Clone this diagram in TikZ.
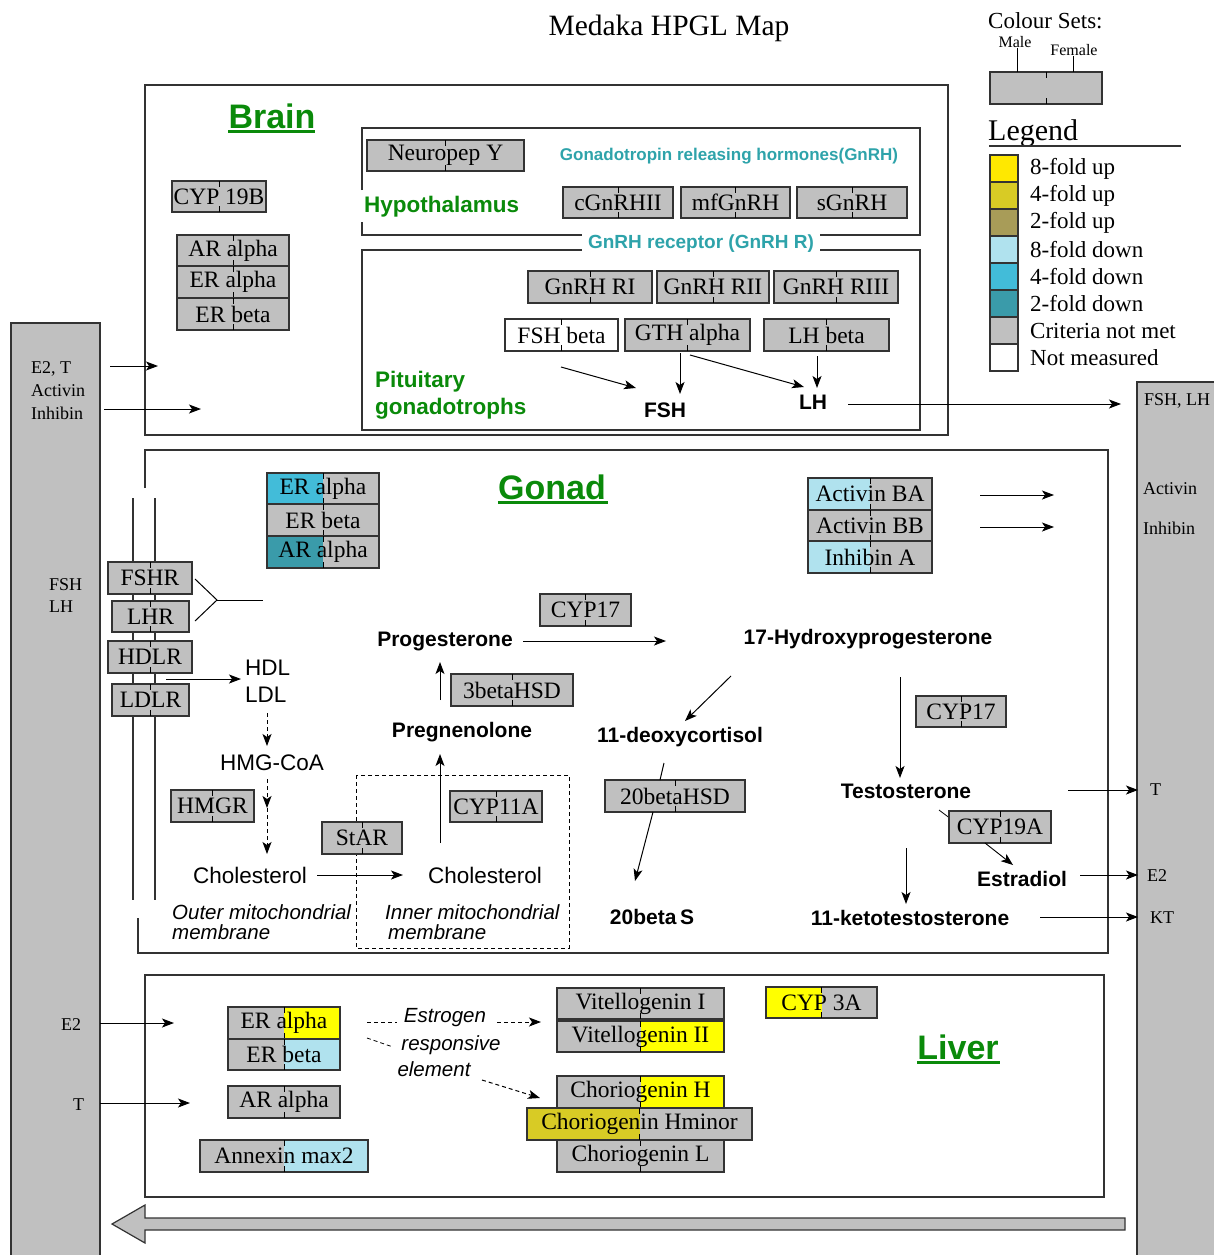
\documentclass[tikz,border=0pt]{standalone}
\usepackage{fontspec}
\setmainfont{Liberation Serif}
\newfontfamily\sansf{Liberation Sans}
\usetikzlibrary{arrows.meta}

\definecolor{gry}{HTML}{C0C0C0}
\definecolor{upA}{HTML}{FFFF00}
\definecolor{upL}{HTML}{FFE800}
\definecolor{upB}{HTML}{D8CB25}
\definecolor{upC}{HTML}{A89C58}
\definecolor{dnA}{HTML}{B0E2EE}
\definecolor{dnB}{HTML}{42BCD9}
\definecolor{dnC}{HTML}{3A9BAA}
\definecolor{grn}{HTML}{0A8A0A}
\definecolor{tealtx}{HTML}{2EA3AA}
\definecolor{edge}{HTML}{333333}

\newcommand\fsz[1]{\fontsize{#1}{#1}\selectfont}

\tikzset{
  gbox/.style={draw=edge, line width=1.3pt, inner sep=0pt, font=\fsz{23.5}},
  gtick/.style={draw=black, line width=0.9pt},
  cont/.style={draw=edge, line width=1.3pt},
  arr/.style={-{Stealth[length=12pt,width=9pt,inset=3pt]}, line width=1pt},
  darr/.style={-{Stealth[length=12pt,width=9pt,inset=3pt]}, line width=1pt, dash pattern=on 4pt off 3pt},
  dln/.style={line width=1pt, dash pattern=on 4pt off 3pt},
  bar/.style={fill=gry, draw=edge, line width=1.3pt},
  lgsq/.style={draw=edge, line width=1.3pt, minimum width=28pt, minimum height=27pt, inner sep=0pt},
  lgtx/.style={anchor=west, font=\fsz{23}, inner sep=0pt},
  bartx/.style={anchor=west, font=\fsz{18}, inner sep=0pt},
  organ/.style={font=\sansf\bfseries\fsz{34}, text=grn, inner sep=0pt},
  ulin/.style={draw=grn, line width=2.5pt},
  region/.style={font=\sansf\bfseries\fsz{22.5}, text=grn, inner sep=0pt, anchor=west},
  chemb/.style={font=\sansf\bfseries\fsz{21}, inner sep=0pt},
  chem/.style={font=\sansf\fsz{22.5}, inner sep=0pt},
  itx/.style={font=\sansf\itshape\fsz{20.5}, inner sep=0pt},
}

% name, x1, y1, x2, y2, left colour, right colour, text
\newcommand\genebox[8]{%
  \fill[#6] (#2,#3) rectangle ({(#2+#4)/2},#5);
  \fill[#7] ({(#2+#4)/2},#3) rectangle (#4,#5);
  \node[gbox, minimum width={(#4-#2)*1pt}, minimum height={(#5-#3)*1pt}] (#1) at ({(#2+#4)/2},{(#3+#5)/2}) {#8};
  \draw[gtick] ({(#2+#4)/2},#3) -- ++(0,6) ({(#2+#4)/2},#5) -- ++(0,-6);
}

\begin{document}
\begin{tikzpicture}[x=1pt,y=-1pt]
\useasboundingbox (0,0) rectangle (1213,1255);

% ---------- title ----------
\node[font=\fsz{29.5}] (title) at (669,28) {Medaka HPGL Map};

% ---------- legend ----------
\node[anchor=west, font=\fsz{23}, inner sep=0pt] (cs) at (988,21) {Colour Sets:};
\node[font=\fsz{16}, inner sep=0pt] (male) at (1015,42) {Male};
\node[font=\fsz{16}, inner sep=0pt] (female) at (1074,50) {Female};
\genebox{csbox}{990}{72}{1102}{104}{gry}{gry}{}
\coordinate (maleL) at (1017,72);
\coordinate (femL) at (1073,72);
\draw[line width=1pt] (male.south -| maleL) -- (maleL);
\draw[line width=1pt] (female.south -| femL) -- (femL);
\node[anchor=west, font=\fsz{30}, inner sep=0pt] (legend) at (988,133) {Legend};
\coordinate (lgU1) at (989,146);
\coordinate (lgU2) at (1181,146);
\draw[line width=1.2pt, draw=edge] (lgU1) -- (lgU2);
\foreach \i/\c/\t in {0/upL/8-fold up,1/upB/4-fold up,2/upC/2-fold up,3/dnA/8-fold down,4/dnB/4-fold down,5/dnC/2-fold down,6/gry/Criteria not met,7/white/Not measured}{
  \node[lgsq, fill=\c] (lg\i) at (1004,{168.5+27*\i}) {};
  \node[lgtx] (lgt\i) at (1030,{168.5+27*\i}) {\t};
}

% ---------- side bars ----------
\draw[bar] (11,323) rectangle (100,1262);
\draw[bar] (1137,382) rectangle (1222,1262);
\node[bartx] (lE2T) at (31,369) {E2, T};
\node[bartx] (lAct) at (31,391) {Activin};
\node[bartx] (lInh) at (31,413) {Inhibin};
\node[bartx] (lFSH) at (49,585) {FSH};
\node[bartx] (lLH) at (49,607) {LH};
\node[bartx] (lE2) at (61,1025) {E2};
\node[bartx] (lT) at (73,1105) {T};
\node[bartx] (rFL) at (1144,401) {FSH, LH};
\node[bartx] (rAct) at (1143,489) {Activin};
\node[bartx] (rInh) at (1143,528) {Inhibin};
\node[bartx] (rT) at (1150,790) {T};
\node[bartx] (rE2) at (1147,876) {E2};
\node[bartx] (rKT) at (1150,918) {KT};

% ---------- brain ----------
\draw[cont] (145,85) rectangle (948,435);
\node[organ] (brain) at (272,116) {Brain};
\draw[ulin] (brain.south west) ++(0,3) -- ++(87,0);
\genebox{cyp19b}{172}{181}{266}{212}{gry}{gry}{CYP 19B}
\genebox{bAR}{177}{235}{289}{266}{gry}{gry}{AR alpha}
\genebox{bERa}{177}{266}{289}{298}{gry}{gry}{ER alpha}
\genebox{bERb}{177}{298}{289}{330}{gry}{gry}{ER beta}

% hypothalamus
\draw[cont] (362,190) -- (362,128) -- (920,128) -- (920,235) -- (362,235) -- (362,222);
\node[region] (hypo) at (364,207) {Hypothalamus};
\genebox{npy}{367}{140}{524}{171}{gry}{gry}{Neuropep Y}
\node[font=\sansf\bfseries\fsz{17}, text=tealtx, inner sep=0pt] (gnrh) at (729,156) {Gonadotropin releasing hormones(GnRH)};
\genebox{cg}{563}{187}{673}{218}{gry}{gry}{cGnRHII}
\genebox{mf}{681}{187}{790}{218}{gry}{gry}{mfGnRH}
\genebox{sg}{797}{187}{907}{218}{gry}{gry}{sGnRH}

% pituitary
\draw[cont] (362,250) rectangle (920,430);
\node[font=\sansf\bfseries\fsz{19}, text=tealtx, fill=white, inner xsep=6pt, inner ysep=2pt] (gnrhr) at (701,244) {GnRH receptor (GnRH R)};
\genebox{r1}{528}{271}{652}{303}{gry}{gry}{GnRH RI}
\genebox{r2}{657}{271}{769}{303}{gry}{gry}{GnRH RII}
\genebox{r3}{774}{271}{898}{303}{gry}{gry}{GnRH RIII}
\genebox{fshb}{505}{319}{618}{351}{white}{white}{FSH beta}
\genebox{gtha}{625}{319}{750}{351}{gry}{gry}{GTH alpha}
\genebox{lhb}{764}{319}{889}{351}{gry}{gry}{LH beta}
\node[region] (pit1) at (375,382) {Pituitary};
\node[region] (pit2) at (375,409) {gonadotrophs};
\node[chemb] (fsh) at (665,410) {FSH};
\node[chemb] (lh) at (813,402) {LH};
\coordinate (p1s) at (561,367); \coordinate (p1e) at (636,388);
\coordinate (p2s) at (680,353); \coordinate (p2e) at (680,394);
\coordinate (p3s) at (690,355); \coordinate (p3e) at (804,387);
\coordinate (p4s) at (817,356); \coordinate (p4e) at (817,388);
\coordinate (lhs) at (848,404); \coordinate (lhe) at (1121,404);
\draw[arr] (p1s) -- (p1e);
\draw[arr] (p2s) -- (p2e);
\draw[arr] (p3s) -- (p3e);
\draw[arr] (p4s) -- (p4e);
\draw[arr] (lhs) -- (lhe);

% left bar to brain
\coordinate (b1s) at (110,366); \coordinate (b1e) at (158,366);
\coordinate (b2s) at (104,409); \coordinate (b2e) at (201,409);
\draw[arr] (b1s) -- (b1e);
\draw[arr] (b2s) -- (b2e);

% ---------- gonad ----------
\draw[cont] (145,488) -- (145,450) -- (1108,450) -- (1108,953) -- (138,953) -- (138,918);
\draw[line width=1.3pt, draw=edge] (133,498) -- (133,900);
\draw[line width=1.3pt, draw=edge] (155,498) -- (155,900);
\node[organ] (gonad) at (552,487) {Gonad};
\draw[ulin] (gonad.south west) ++(0,3) -- ++(110,0);
\genebox{gERa}{267}{473}{379}{504}{dnB}{gry}{ER alpha}
\genebox{gERb}{267}{504}{379}{536}{gry}{gry}{ER beta}
\genebox{gAR}{267}{536}{379}{568}{dnC}{gry}{AR alpha}
\genebox{fshr}{108}{562}{192}{594}{gry}{gry}{FSHR}
\genebox{lhr}{112}{601}{189}{632}{gry}{gry}{LHR}
\genebox{hdlr}{108}{641}{192}{673}{gry}{gry}{HDLR}
\genebox{ldlr}{112}{684}{189}{716}{gry}{gry}{LDLR}
\coordinate (brk) at (217,600);
\coordinate (brk1) at (195,579);
\coordinate (brk2) at (195,621);
\coordinate (brk3) at (263,600);
\draw[line width=1pt] (brk1) -- (brk) -- (brk2);
\draw[line width=1pt] (brk) -- (brk3);

\node[chem, anchor=west] (hdl) at (245,668) {HDL};
\node[chem, anchor=west] (ldl) at (245,695) {LDL};
\coordinate (h1s) at (166,679); \coordinate (h1e) at (241,679);
\draw[arr] (h1s) -- (h1e);
\node[chem] (hmg) at (272,763) {HMG-CoA};
\coordinate (d1s) at (267,713); \coordinate (d1e) at (267,746);
\coordinate (d2s) at (267,779); \coordinate (d2m) at (267,808); \coordinate (d2e) at (267,854);
\draw[darr] (d1s) -- (d1e);
\draw[darr] (d2s) -- (d2m);
\draw[darr] (d2m) -- (d2e);
\genebox{hmgr}{171}{790}{254}{822}{gry}{gry}{HMGR}
\node[chem] (chol1) at (250,875) {Cholesterol};
\draw[dln] (356,775) rectangle (569,948);
\node[chem] (chol2) at (485,875) {Cholesterol};
\coordinate (c1s) at (317,875); \coordinate (c1e) at (403,875);
\draw[arr] (c1s) -- (c1e);
\genebox{star}{322}{822}{402}{854}{gry}{gry}{StAR}
\genebox{cyp11}{450}{791}{542}{822}{gry}{gry}{CYP11A}
\node[chemb] (preg) at (462,732) {Pregnenolone};
\node[chemb] (prog) at (445,641) {Progesterone};
\coordinate (u1s) at (440,843); \coordinate (u1e) at (440,754);
\coordinate (u2s) at (440,700); \coordinate (u2e) at (440,662);
\draw[arr] (u1s) -- (u1e);
\draw[arr] (u2s) -- (u2e);
\genebox{hsd3}{451}{674}{573}{706}{gry}{gry}{3betaHSD}
\genebox{cyp17a}{540}{594}{631}{626}{gry}{gry}{CYP17}
\node[chemb] (ohp) at (868,639) {17-Hydroxyprogesterone};
\coordinate (pr1s) at (523,641); \coordinate (pr1e) at (666,641);
\draw[arr] (pr1s) -- (pr1e);
\node[chemb] (deoxy) at (680,737) {11-deoxycortisol};
\coordinate (o1s) at (731,676); \coordinate (o1e) at (685,721);
\draw[arr] (o1s) -- (o1e);
\genebox{hsd20}{605}{780}{745}{812}{gry}{gry}{20betaHSD}
\coordinate (dx1) at (664,763); \coordinate (dx2) at (660,780);
\draw[line width=1pt] (dx1) -- (dx2);
\coordinate (dx3) at (653,812); \coordinate (dx4) at (635,881);
\draw[arr] (dx3) -- (dx4);
\node[chemb] (s20) at (652,917) {20beta\,S};
\coordinate (o2s) at (900,677); \coordinate (o2e) at (900,778);
\draw[arr] (o2s) -- (o2e);
\genebox{cyp17b}{916}{696}{1006}{727}{gry}{gry}{CYP17}
\node[chemb] (testo) at (906,791) {Testosterone};
\coordinate (t1) at (939,810); \coordinate (t2) at (951,819);
\draw[line width=0.8pt] (t1) -- (t2);
\genebox{cyp19a}{949}{811}{1051}{843}{gry}{gry}{CYP19A}
\coordinate (t3) at (985,843); \coordinate (t4) at (1013,865);
\draw[arr, line width=0.9pt] (t3) -- (t4);
\node[chemb] (estr) at (1022,879) {Estradiol};
\coordinate (t5) at (906,848); \coordinate (t6) at (906,904);
\draw[arr] (t5) -- (t6);
\node[chemb] (keto) at (910,918) {11-ketotestosterone};
\genebox{actba}{808}{478}{932}{510}{dnA}{gry}{Activin BA}
\genebox{actbb}{808}{510}{932}{541}{gry}{gry}{Activin BB}
\genebox{inha}{808}{541}{932}{573}{dnA}{gry}{Inhibin A}
\coordinate (a1s) at (980,495); \coordinate (a1e) at (1054,495);
\coordinate (a2s) at (980,527); \coordinate (a2e) at (1054,527);
\draw[arr] (a1s) -- (a1e);
\draw[arr] (a2s) -- (a2e);
\coordinate (o3s) at (1068,790); \coordinate (o3e) at (1138,790);
\coordinate (o4s) at (1080,875); \coordinate (o4e) at (1138,875);
\coordinate (o5s) at (1040,917); \coordinate (o5e) at (1138,917);
\draw[arr] (o3s) -- (o3e);
\draw[arr] (o4s) -- (o4e);
\draw[arr] (o5s) -- (o5e);
\node[itx, anchor=west, align=left] (outer) at (172,922) {Outer mitochondrial\\membrane};
\node[itx, anchor=west, align=left] (inner) at (385,922) {Inner mitochondrial\\\hspace{3pt}membrane};

% ---------- liver ----------
\draw[cont] (145,975) rectangle (1104,1197);
\node[organ] (liver) at (958,1047) {Liver};
\draw[ulin] (liver.south west) ++(0,3) -- ++(83,0);
\genebox{lERa}{228}{1007}{340}{1039}{gry}{upA}{ER alpha}
\genebox{lERb}{228}{1039}{340}{1070}{gry}{dnA}{ER beta}
\genebox{lAR}{228}{1086}{340}{1118}{gry}{gry}{AR alpha}
\genebox{anx}{200}{1140}{368}{1172}{gry}{dnA}{Annexin max2}
\coordinate (l1s) at (100,1023); \coordinate (l1e) at (174,1023);
\coordinate (l2s) at (100,1103); \coordinate (l2e) at (190,1103);
\draw[arr] (l1s) -- (l1e);
\draw[arr] (l2s) -- (l2e);
\node[itx] (estrog) at (445,1018) {Estrogen};
\node[itx] (resp) at (451,1045) {responsive};
\node[itx] (elem) at (434,1069) {element};
\coordinate (e1s) at (367,1022); \coordinate (e1e) at (397,1022);
\coordinate (e2s) at (497,1022); \coordinate (e2e) at (541,1022);
\coordinate (e3s) at (367,1038); \coordinate (e3e) at (393,1047);
\coordinate (e4s) at (482,1080); \coordinate (e4e) at (540,1098);
\draw[dln] (e1s) -- (e1e);
\draw[darr] (e2s) -- (e2e);
\draw[dln, line width=0.8pt] (e3s) -- (e3e);
\draw[darr] (e4s) -- (e4e);
\genebox{vit1}{557}{988}{724}{1019}{gry}{gry}{Vitellogenin I}
\genebox{vit2}{557}{1021}{724}{1052}{gry}{upA}{Vitellogenin II}
\genebox{chH}{557}{1076}{724}{1108}{gry}{upA}{Choriogenin H}
\genebox{chL}{557}{1140}{724}{1172}{gry}{gry}{Choriogenin L}
\genebox{chHm}{527}{1108}{752}{1140}{upB}{gry}{Choriogenin Hminor}
\genebox{cyp3a}{766}{987}{877}{1018}{upA}{gry}{CYP 3A}

% ---------- bottom arrow ----------
\draw[fill=gry, draw=edge, line width=1.2pt] (1125,1218) -- (145,1218) -- (145,1205) -- (112,1224) -- (145,1243) -- (145,1230) -- (1125,1230) -- cycle;
\end{tikzpicture}
\end{document}
